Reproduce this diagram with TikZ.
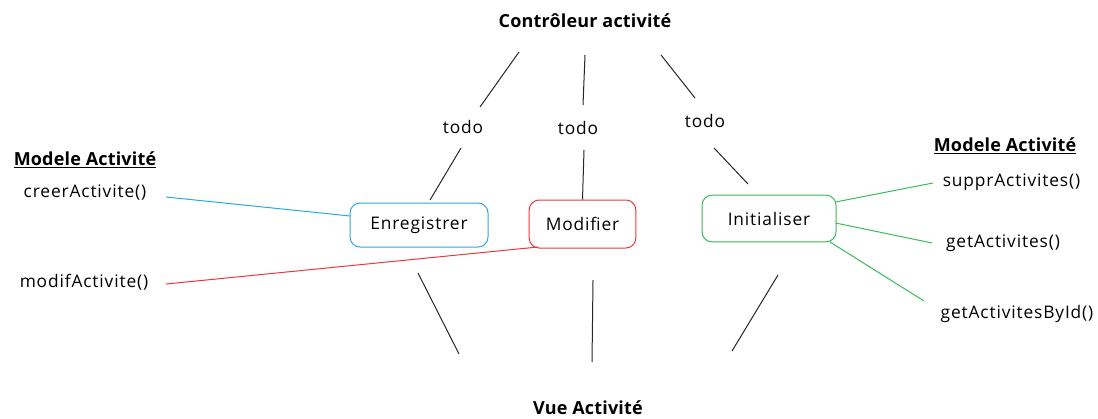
\documentclass[tikz,border=0pt]{standalone}
\usepackage{fontspec}
\setmainfont{Open Sans}[LetterSpace=5]
\newfontfamily\headfont{Open Sans}[LetterSpace=1]
\definecolor{bluec}{HTML}{2BAAE2}
\definecolor{redc}{HTML}{E8383D}
\definecolor{greenc}{HTML}{3DB95C}
\begin{document}
\begin{tikzpicture}[x=0.75pt,y=-0.75pt,
  lbl/.style={inner sep=0pt,font=\fontsize{13}{15}\selectfont},
  head/.style={inner sep=0pt,font=\headfont\fontsize{13.5}{15}\selectfont\bfseries},
  box/.style={draw,rounded corners=7.5pt,line width=0.75pt,inner sep=0pt,font=\fontsize{13}{15}\selectfont},
  ln/.style={line width=0.75pt,black!85}]
\useasboundingbox (0,0) rectangle (1098,418);
% headings
\node[head] (ctrl) at (585,21) {Contrôleur activité};
\node[head] (vue) at (588,408) {Vue Activité};
\node[head] (ml) at (85,160) {\underline{Modele Activité}};
\node[head] (mr) at (1005,146) {\underline{Modele Activité}};
% todo labels
\node[lbl] (t1) at (463,127) {todo};
\node[lbl] (t2) at (578,128) {todo};
\node[lbl] (t3) at (705,121) {todo};
% methods
\node[lbl] (creer) at (85,193) {creerActivite()};
\node[lbl] (modif) at (84,282) {modifActivite()};
\node[lbl] (suppr) at (1011.5,182) {supprActivites()};
\node[lbl] (get) at (1003,243) {getActivites()};
\node[lbl] (getid) at (1017,314) {getActivitesById()};
% boxes
\node[box,draw=bluec,minimum width=103.5pt,minimum height=33pt] (enr) at (419,225) {Enregistrer};
\node[box,draw=redc,minimum width=80pt,minimum height=36pt] (mod) at (582.5,224) {Modifier};
\node[box,draw=greenc,minimum width=100.5pt,minimum height=35pt] (ini) at (769,218.5) {Initialiser};
% coordinates
\coordinate (a1) at (519,52); \coordinate (a2) at (480,107);
\coordinate (b1) at (585,55); \coordinate (b2) at (583,105);
\coordinate (c1) at (661,55); \coordinate (c2) at (695,98);
\coordinate (d1) at (461,148); \coordinate (d2) at (430,200);
\coordinate (e1) at (584,150);
\coordinate (f1) at (714,148); \coordinate (f2) at (748,184);
\coordinate (g1) at (418,273); \coordinate (g2) at (459,354);
\coordinate (h1) at (593,280); \coordinate (h2) at (592,362);
\coordinate (i1) at (778,275); \coordinate (i2) at (732,351);
\coordinate (bl1) at (166,197); \coordinate (bl2) at (350,216);
\coordinate (rd1) at (166,284); \coordinate (rd2) at (538,247);
\coordinate (gr1) at (933,183); \coordinate (gr1b) at (835.5,202);
\coordinate (gr2) at (932,243); \coordinate (gr2b) at (835.5,223);
\coordinate (gr3) at (924,301); \coordinate (gr3b) at (830,242);
% black connectors
\draw[ln] (a1) -- (a2);
\draw[ln] (b1) -- (b2);
\draw[ln] (c1) -- (c2);
\draw[ln] (d1) -- (d2);
\draw[ln] (e1) -- (mod.north);
\draw[ln] (f1) -- (f2);
\draw[ln] (g1) -- (g2);
\draw[ln] (h1) -- (h2);
\draw[ln] (i1) -- (i2);
% coloured connectors
\draw[line width=0.75pt,bluec] (bl1) -- (bl2);
\draw[line width=0.75pt,redc] (rd1) -- (rd2);
\draw[line width=0.75pt,greenc] (gr1b) -- (gr1);
\draw[line width=0.75pt,greenc] (gr2b) -- (gr2);
\draw[line width=0.75pt,greenc] (gr3b) -- (gr3);
\end{tikzpicture}
\end{document}
